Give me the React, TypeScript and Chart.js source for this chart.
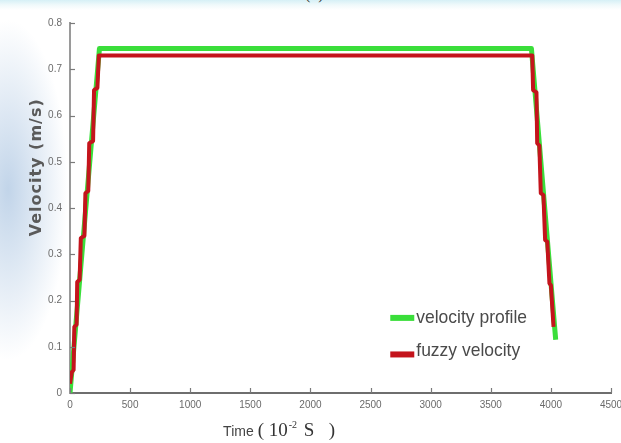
import React, { useEffect, useRef } from 'react';
import { Chart, registerables } from 'chart.js';

Chart.register(...registerables);

// ---- data ----
const profileLabel = 'velocity profile';
const profileTime = [0, 245, 3838, 4040];
const profileVelocity = [0, 0.745, 0.745, 0.115];

const fuzzyLabel = 'fuzzy velocity';
const fuzzyTime = [0, 15, 30, 36, 55, 60, 80, 90, 120, 128, 152, 160, 192, 200, 228, 240, 3845, 3852, 3880, 3886, 3904, 3916, 3938, 3952, 3970, 3988, 4000, 4022];
const fuzzyVelocity = [0.02, 0.045, 0.05, 0.143, 0.148, 0.24, 0.245, 0.335, 0.34, 0.432, 0.437, 0.54, 0.545, 0.655, 0.66, 0.73, 0.73, 0.655, 0.65, 0.54, 0.535, 0.432, 0.428, 0.331, 0.327, 0.237, 0.233, 0.143];

const xMin = 0;
const xMax = 4500;
const xStep = 500;
const yMin = 0;
const yMax = 0.8;
const yStep = 0.1;

const yTitle = 'Velocity (m/s)';
const xTitleMain = 'Time';
const xTitleUnit = '( 10';
const xTitleExp = '-2';
const xTitleTail = ' S   )';

const GREEN = '#3ade3a';
const RED = '#c4141c';
const AXIS = '#7a7a7a';

const toPoints = (xs: number[], ys: number[]) => xs.map((x, i) => ({ x, y: ys[i] }));

const decorPlugin = {
  id: 'decor',
  afterDraw(chart: any) {
    const { ctx, chartArea, scales } = chart;
    const { left, right, top, bottom } = chartArea;
    const w = right - left;
    const h = bottom - top;
    ctx.save();
    // inward tick marks
    ctx.strokeStyle = AXIS;
    ctx.lineWidth = 1.2;
    scales.x.ticks.forEach((t: any) => {
      const px = Math.round(scales.x.getPixelForValue(t.value)) + 0.5;
      ctx.beginPath();
      ctx.moveTo(px, bottom);
      ctx.lineTo(px, bottom - 5);
      ctx.stroke();
    });
    scales.y.ticks.forEach((t: any) => {
      const py = Math.round(scales.y.getPixelForValue(t.value)) + 0.5;
      ctx.beginPath();
      ctx.moveTo(left, py);
      ctx.lineTo(left + 5, py);
      ctx.stroke();
    });

    // y title
    ctx.fillStyle = '#5a5a5a';
    ctx.font = 'bold 16px "DejaVu Sans", Verdana, sans-serif';
    (ctx as any).letterSpacing = '1px';
    ctx.textAlign = 'center';
    ctx.textBaseline = 'middle';
    ctx.save();
    ctx.translate(left - 33, top + h * 0.39);
    ctx.rotate(-Math.PI / 2);
    ctx.fillText(yTitle, 0, 0);
    ctx.restore();
    (ctx as any).letterSpacing = '0px';

    // x title (mixed fonts)
    const ty = bottom + 43;
    let tx = left + w * 0.283;
    ctx.textAlign = 'left';
    ctx.textBaseline = 'alphabetic';
    ctx.fillStyle = '#444';
    ctx.font = '14px "Liberation Sans", Arial, sans-serif';
    ctx.fillText(xTitleMain, tx, ty);
    tx += ctx.measureText(xTitleMain).width + 4;
    ctx.font = '19px "Liberation Serif", "Times New Roman", serif';
    ctx.fillStyle = '#333';
    ctx.fillText(xTitleUnit, tx, ty);
    tx += ctx.measureText(xTitleUnit).width + 1;
    ctx.font = '10px "Liberation Serif", serif';
    ctx.fillText(xTitleExp, tx, ty - 8);
    tx += ctx.measureText(xTitleExp).width + 2;
    ctx.font = '19px "Liberation Serif", "Times New Roman", serif';
    ctx.fillText(xTitleTail, tx, ty);

    // legend inside plot
    const items = chart.data.datasets.map((d: any) => ({ label: d.label, color: d.borderColor }));
    const lx = left + w * 0.592;
    const rows = [top + h * 0.797, top + h * 0.885];
    ctx.font = '19px "Liberation Sans", Arial, sans-serif';
    ctx.textBaseline = 'middle';
    items.forEach((it: any, i: number) => {
      const cy = rows[i];
      ctx.fillStyle = it.color;
      ctx.fillRect(lx, cy - 3 + i * 4, 24, 6);
      ctx.fillStyle = '#4a4a4a';
      ctx.save();
      ctx.translate(lx + 26, cy);
      ctx.scale(0.92, 1);
      ctx.fillText(it.label, 0, 0);
      ctx.restore();
    });
    ctx.restore();
  },
};

export default function App() {
  const ref = useRef<HTMLCanvasElement | null>(null);

  useEffect(() => {
    if (!ref.current) return;
    const chart = new Chart(ref.current, {
      type: 'line',
      data: {
        datasets: [
          {
            label: profileLabel,
            data: toPoints(profileTime, profileVelocity),
            borderColor: GREEN,
            backgroundColor: GREEN,
            borderWidth: 5,
            pointRadius: 0,
            tension: 0,
            order: 2,
            borderJoinStyle: 'round',
          },
          {
            label: fuzzyLabel,
            data: toPoints(fuzzyTime, fuzzyVelocity),
            borderColor: RED,
            backgroundColor: RED,
            borderWidth: 4,
            pointRadius: 0,
            tension: 0,
            order: 1,
            borderJoinStyle: 'round',
          },
        ],
      },
      options: {
        responsive: false,
        animation: false,
        events: [],
        layout: { padding: { left: 0, top: 23, right: 10, bottom: 0 } },
        plugins: {
          legend: { display: false },
          tooltip: { enabled: false },
          title: { display: false },
        },
        scales: {
          x: {
            type: 'linear',
            min: xMin,
            max: xMax,
            afterFit: (s: any) => {
              s.height = 50;
              s.paddingLeft = 0;
              s.paddingRight = 0;
            },
            ticks: {
              stepSize: xStep,
              padding: 6,
              color: '#6a6a6a',
              font: { family: '"Liberation Sans", Arial, sans-serif', size: 10 },
              maxRotation: 0,
              autoSkip: false,
              callback: (v: any) => String(v),
            },
            grid: { display: true, drawOnChartArea: false, drawTicks: false },
            border: { display: true, color: '#6e6e6e', width: 2 },
          },
          y: {
            type: 'linear',
            min: yMin,
            max: yMax,
            afterFit: (s: any) => {
              s.width = 70;
              s.paddingTop = 0;
              s.paddingBottom = 0;
            },
            ticks: {
              stepSize: yStep,
              padding: 8,
              color: '#6a6a6a',
              font: { family: '"Liberation Sans", Arial, sans-serif', size: 10 },
              callback: (v: any) => String(Math.round(Number(v) * 10) / 10),
            },
            grid: { display: true, drawOnChartArea: false, drawTicks: false },
            border: { display: true, color: '#9a9a9a', width: 2 },
          },
        },
      },
      plugins: [decorPlugin],
    } as any);
    return () => chart.destroy();
  }, []);

  return (
    <div
      style={{
        position: 'fixed',
        left: 0,
        top: 0,
        width: 621,
        height: 443,
        overflow: 'hidden',
        background:
          'linear-gradient(to bottom, rgba(214,240,246,1) 0px, rgba(236,248,250,0.8) 5px, rgba(255,255,255,0) 10px), radial-gradient(ellipse 60px 170px at 8px 190px, rgba(190,210,232,0.95), rgba(255,255,255,0)), #ffffff',
      }}
    >
      <div
        style={{
          position: 'absolute',
          left: 305,
          top: -15,
          font: '16px "Liberation Serif", serif',
          color: '#333',
          whiteSpace: 'pre',
        }}
      >
        (  )
      </div>
      <canvas ref={ref} width={621} height={443} style={{ position: 'absolute', left: 0, top: 0 }} />
    </div>
  );
}
